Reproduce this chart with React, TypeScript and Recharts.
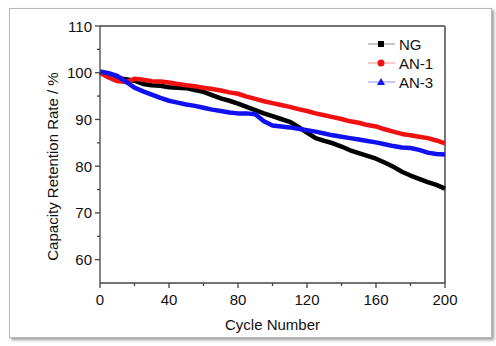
import React from "react";
import {
  Legend,
  Line,
  LineChart,
  ReferenceLine,
  XAxis,
  YAxis,
} from "recharts";

const cycles = [
  0, 5, 10, 15, 20, 25, 30, 35, 40, 45, 50, 55, 60, 65, 70, 75, 80, 85, 90, 95,
  100, 105, 110, 115, 120, 125, 130, 135, 140, 145, 150, 155, 160, 165, 170,
  175, 180, 185, 190, 195, 200,
];

const ng = [
  100, 99.3, 98.8, 98.6, 98.3, 97.6, 97.3, 97.2, 96.9, 96.8, 96.7, 96.3, 95.9,
  95.2, 94.5, 94.0, 93.4, 92.7, 92.0, 91.3, 90.7, 90.1, 89.5, 88.4, 87.2, 86.0,
  85.4, 84.9, 84.2, 83.4, 82.8, 82.2, 81.6, 80.8, 79.9, 78.8, 78.0, 77.3, 76.6,
  76.0, 75.2,
];

const an1 = [
  100, 99.0, 98.2, 98.0, 98.7, 98.5, 98.2, 98.1, 97.9, 97.6, 97.3, 97.1, 96.8,
  96.5, 96.2, 95.8, 95.5, 94.9, 94.4, 93.9, 93.5, 93.1, 92.7, 92.2, 91.8, 91.3,
  90.9, 90.5, 90.1, 89.6, 89.3, 88.8, 88.5, 87.9, 87.4, 86.9, 86.6, 86.3, 86.0,
  85.5, 84.9,
];

const an3 = [
  100.3, 99.9, 99.3, 98.1, 96.8, 96.0, 95.3, 94.6, 94.0, 93.6, 93.2, 92.9, 92.5,
  92.1, 91.8, 91.5, 91.3, 91.3, 91.1, 89.6, 88.7, 88.5, 88.3, 88.0, 87.7, 87.4,
  87.0, 86.6, 86.3, 86.0, 85.7, 85.4, 85.1, 84.7, 84.3, 84.0, 83.9, 83.5, 82.9,
  82.6, 82.5,
];

const xTicks = [0, 20, 40, 60, 80, 100, 120, 140, 160, 180, 200];
const yTicks = [60, 65, 70, 75, 80, 85, 90, 95, 100, 105, 110];

const series = [
  { key: "NG", color: "#000000", marker: "square" },
  { key: "AN-1", color: "#f01010", marker: "circle" },
  { key: "AN-3", color: "#1010f0", marker: "triangle" },
];

const data = cycles.map((c, i) => ({
  cycle: c,
  NG: ng[i],
  "AN-1": an1[i],
  "AN-3": an3[i],
}));

const FONT = "'Liberation Sans', Arial, sans-serif";
const AXIS = "#444";

const XTick = (props: any) => {
  const { x, y, payload } = props;
  const major = payload.value % 40 === 0;
  return (
    <g>
      <line x1={x} x2={x} y1={y} y2={y + (major ? 5 : 3)} stroke={AXIS} strokeWidth={1.3} />
      {major && (
        <text x={x} y={y + 16} textAnchor="middle" dominantBaseline="central" fontSize={15} fontFamily={FONT} fill="#111">
          {payload.value}
        </text>
      )}
    </g>
  );
};

const YTick = (props: any) => {
  const { x, y, payload } = props;
  const major = payload.value % 10 === 0;
  return (
    <g>
      <line x1={x} x2={x - (major ? 5 : 3)} y1={y} y2={y} stroke={AXIS} strokeWidth={1.3} />
      {major && (
        <text x={x - 8} y={y} textAnchor="end" dominantBaseline="central" fontSize={15} fontFamily={FONT} fill="#111">
          {payload.value}
        </text>
      )}
    </g>
  );
};

const Marker = ({ type, color, cx, cy }: any) => {
  if (type === "square") return <rect x={cx - 3} y={cy - 3} width={6} height={6} fill={color} />;
  if (type === "circle") return <circle cx={cx} cy={cy} r={3.5} fill={color} />;
  return <polygon points={`${cx},${cy - 4} ${cx - 4},${cy + 3} ${cx + 4},${cy + 3}`} fill={color} />;
};

const renderLegend = () => (
  <svg width={90} height={62}>
    {series.map((s, i) => {
      const y = 12 + i * 19;
      return (
        <g key={s.key}>
          <line x1={6} x2={33} y1={y} y2={y} stroke={s.color} strokeOpacity={0.45} strokeWidth={1} />
          <Marker type={s.marker} color={s.color} cx={19} cy={y} />
          <text x={37} y={y} dominantBaseline="central" fontSize={15} fontFamily={FONT} fill="#111">
            {s.key}
          </text>
        </g>
      );
    })}
  </svg>
);

const YLabel = (props: any) => {
  const vb = props.viewBox;
  const cx = vb.x + 12;
  const cy = vb.y + vb.height / 2 + 12;
  return (
    <text x={cx} y={cy} transform={`rotate(-90 ${cx} ${cy})`} textAnchor="middle" dominantBaseline="central" fontSize={15} fontFamily={FONT} fill="#111">
      Capacity Retention Rate / %
    </text>
  );
};

export default function App() {
  return (
    <div style={{ position: "absolute", left: 0, top: 0, width: 496, height: 346, background: "#fff" }}>
      <div
        style={{
          position: "absolute",
          left: 9,
          top: 8,
          width: 481,
          height: 328,
          border: "1px solid #b8b8b8",
          boxShadow: "2px 2px 3px #9a9a9a",
        }}
      />
      <div style={{ position: "absolute", left: 0, top: 0 }}>
        <LineChart
          width={496}
          height={346}
          data={data}
          margin={{ top: 26, right: 51, left: 40, bottom: 11 }}
        >
          <XAxis
            dataKey="cycle"
            type="number"
            domain={[0, 200]}
            ticks={xTicks}
            tick={<XTick />}
            tickLine={false}
            tickSize={0}
            tickMargin={0}
            height={52}
            interval={0}
            stroke={AXIS}
            strokeWidth={1.3}
            label={{ value: "Cycle Number", position: "insideBottom", offset: 5, fontSize: 15, fontFamily: FONT, fill: "#111" }}
          />
          <YAxis
            type="number"
            domain={[55, 110]}
            ticks={yTicks}
            tick={<YTick />}
            tickLine={false}
            tickSize={0}
            tickMargin={0}
            width={60}
            interval={0}
            stroke={AXIS}
            strokeWidth={1.3}
            allowDataOverflow
            label={<YLabel />}
          />
          <ReferenceLine y={110} stroke={AXIS} strokeWidth={1.3} />
          <ReferenceLine x={200} stroke="#666" strokeWidth={1.8} />
          {series.map((s) => (
            <Line
              key={s.key}
              dataKey={s.key}
              type="linear"
              stroke={s.color}
              strokeWidth={4.5}
              strokeLinejoin="round"
              dot={false}
              activeDot={false}
              isAnimationActive={false}
            />
          ))}
          <Legend
            layout="vertical"
            align="center"
            verticalAlign="middle"
            content={renderLegend}
            wrapperStyle={{ left: 362, top: 32, width: 90, height: 62 }}
          />
        </LineChart>
      </div>
    </div>
  );
}
